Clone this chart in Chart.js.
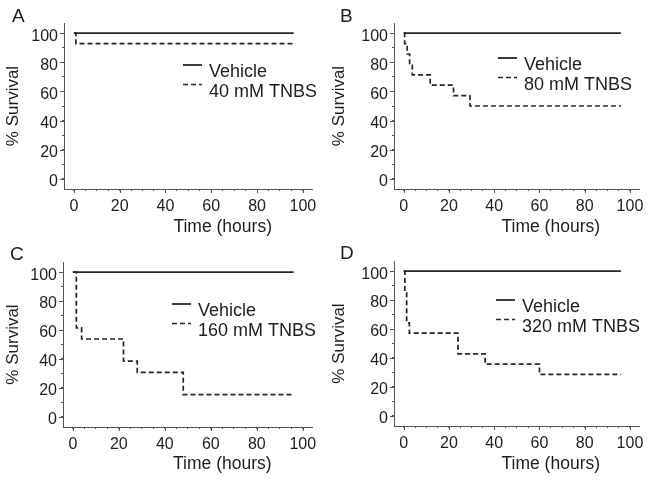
<!DOCTYPE html>
<html>
<head>
<meta charset="utf-8">
<script src="https://cdn.jsdelivr.net/npm/chart.js@4.4.1/dist/chart.umd.min.js"></script>
<style>
  body { margin: 0; background: #fff; }
  #figure { position: relative; width: 653px; height: 482px; }
  canvas { position: absolute; }
</style>
</head>
<body>
<div id="figure">
  <canvas id="panelA" width="326" height="240" style="left:0;top:0"></canvas>
  <canvas id="panelB" width="327" height="240" style="left:326px;top:0"></canvas>
  <canvas id="panelC" width="326" height="242" style="left:0;top:240px"></canvas>
  <canvas id="panelD" width="327" height="242" style="left:326px;top:240px"></canvas>
</div>
<script>
// tick labels shown on each axis (major ticks)
const timeTicks = [0, 20, 40, 60, 80, 100];
const survivalTicks = [0, 20, 40, 60, 80, 100];

// vehicle group: nobody died
const vehicleTimes = [0, 96];
const vehicleSurvival = [100, 100];

// Kaplan-Meier steps (hours, % survival)
const tnbs40Times = [0, 0.9, 96];
const tnbs40Survival = [100, 92.9, 92.9];

const tnbs80Times = [0, 0.4, 1.5, 2.6, 3.8, 11.7, 22, 29.3, 96];
const tnbs80Survival = [100, 92.9, 85.7, 78.6, 71.4, 64.3, 57.1, 50, 50];

const tnbs160Times = [0, 1.5, 3.8, 22, 28, 48, 96];
const tnbs160Survival = [100, 61.5, 53.8, 38.5, 30.8, 15.4, 15.4];

const tnbs320Times = [0, 0.5, 1.3, 2.5, 24, 36, 60, 96];
const tnbs320Survival = [100, 85.7, 64.3, 57.1, 42.9, 35.7, 28.6, 28.6];

const FONT = '"Liberation Sans", Arial, sans-serif';
const INK = '#1e1e1e';
const AXIS = '#555';

const toPoints = (xs, ys) => xs.map((x, i) => ({ x: x, y: ys[i] }));

// panel letter, longer major ticks, x-axis title (right of centre in the original) and inset legend
const panelDecor = {
    id: 'panelDecor',
    afterDraw(chart, args, opts) {
        const ctx = chart.ctx;
        const area = chart.chartArea;
        const xs = chart.scales.x;
        const ys = chart.scales.y;
        ctx.save();

        ctx.strokeStyle = AXIS;
        ctx.lineWidth = 1;
        ctx.beginPath();
        timeTicks.forEach((v) => {
            const px = Math.round(xs.getPixelForValue(v)) + 0.5;
            ctx.moveTo(px, area.bottom);
            ctx.lineTo(px, area.bottom + 4);
        });
        survivalTicks.forEach((v) => {
            const py = Math.round(ys.getPixelForValue(v)) + 0.5;
            ctx.moveTo(area.left, py);
            ctx.lineTo(area.left - 4, py);
        });
        ctx.stroke();

        ctx.fillStyle = INK;
        ctx.textBaseline = 'middle';
        ctx.font = '19px ' + FONT;
        ctx.fillText(opts.letter, opts.letterX, opts.letterY);

        ctx.font = '17.5px ' + FONT;
        ctx.textAlign = 'center';
        ctx.fillText('Time (hours)', xs.getPixelForValue(65), area.bottom + opts.titleGap);
        ctx.textAlign = 'left';

        ctx.font = '18px ' + FONT;
        chart.data.datasets.forEach((ds, i) => {
            const y = opts.legendY + i * 19.5;
            ctx.strokeStyle = ds.borderColor;
            ctx.lineWidth = ds.borderWidth;
            ctx.setLineDash(ds.borderDash || []);
            ctx.beginPath();
            ctx.moveTo(opts.legendX, y);
            ctx.lineTo(opts.legendX + 19, y);
            ctx.stroke();
            ctx.setLineDash([]);
            ctx.fillText(ds.label, opts.legendX + 26, y + 7.5);
        });
        ctx.restore();
    }
};

function createSurvivalChart(canvasId, doseLabel, times, survival, box, decor) {
    const canvas = document.getElementById(canvasId);
    const ctx = canvas.getContext('2d');
    return new Chart(ctx, {
        type: 'line',
        data: {
            datasets: [
                {
                    label: 'Vehicle',
                    data: toPoints(vehicleTimes, vehicleSurvival),
                    borderColor: '#262626',
                    borderWidth: 1.8,
                    pointRadius: 0,
                    stepped: 'before'
                },
                {
                    label: doseLabel,
                    data: toPoints(times, survival),
                    borderColor: '#262626',
                    borderWidth: 1.7,
                    borderDash: [5, 3],
                    pointRadius: 0,
                    stepped: 'before'
                }
            ]
        },
        options: {
            responsive: false,
            animation: false,
            layout: {
                padding: { left: 0, top: box.top, right: canvas.width - box.right, bottom: 0 }
            },
            plugins: {
                legend: { display: false },
                tooltip: { enabled: false },
                panelDecor: decor
            },
            scales: {
                x: {
                    type: 'linear',
                    min: -4.3,
                    max: 104,
                    afterFit: (scale) => { scale.height = canvas.height - box.bottom; },
                    border: { color: AXIS, width: 1 },
                    grid: { drawOnChartArea: false, tickLength: 2, color: AXIS },
                    ticks: {
                        stepSize: 5,
                        includeBounds: false,
                        autoSkip: false,
                        maxRotation: 0,
                        padding: 6,
                        color: INK,
                        font: { family: FONT, size: 16 },
                        callback: (v) => (timeTicks.includes(v) ? v : '')
                    }
                },
                y: {
                    min: -7,
                    max: 107,
                    afterFit: (scale) => { scale.width = box.left; },
                    border: { color: AXIS, width: 1 },
                    grid: { drawOnChartArea: false, tickLength: 2, color: AXIS },
                    ticks: {
                        stepSize: 10,
                        includeBounds: false,
                        autoSkip: false,
                        padding: 4,
                        labelOffset: 3,
                        color: INK,
                        font: { family: FONT, size: 16 },
                        callback: (v) => (survivalTicks.includes(v) ? v : '')
                    },
                    title: {
                        display: true,
                        text: '% Survival',
                        color: INK,
                        font: { family: FONT, size: 17 },
                        padding: { top: 3, bottom: 0 }
                    }
                }
            }
        },
        plugins: [panelDecor]
    });
}

document.addEventListener('DOMContentLoaded', () => {
    createSurvivalChart('panelA', '40 mM TNBS', tnbs40Times, tnbs40Survival,
        { left: 64, right: 312, top: 23, bottom: 189 },
        { letter: 'A', letterX: 12, letterY: 17, legendX: 183, legendY: 65, titleGap: 38 });
    createSurvivalChart('panelB', '80 mM TNBS', tnbs80Times, tnbs80Survival,
        { left: 68, right: 313, top: 23, bottom: 189 },
        { letter: 'B', letterX: 14, letterY: 17, legendX: 172, legendY: 58, titleGap: 38 });
    createSurvivalChart('panelC', '160 mM TNBS', tnbs160Times, tnbs160Survival,
        { left: 63, right: 312, top: 22, bottom: 187 },
        { letter: 'C', letterX: 10, letterY: 15, legendX: 172, legendY: 64, titleGap: 37 });
    createSurvivalChart('panelD', '320 mM TNBS', tnbs320Times, tnbs320Survival,
        { left: 68, right: 313, top: 21, bottom: 186 },
        { letter: 'D', letterX: 14, letterY: 14, legendX: 170, legendY: 60, titleGap: 38 });
});
</script>
</body>
</html>
